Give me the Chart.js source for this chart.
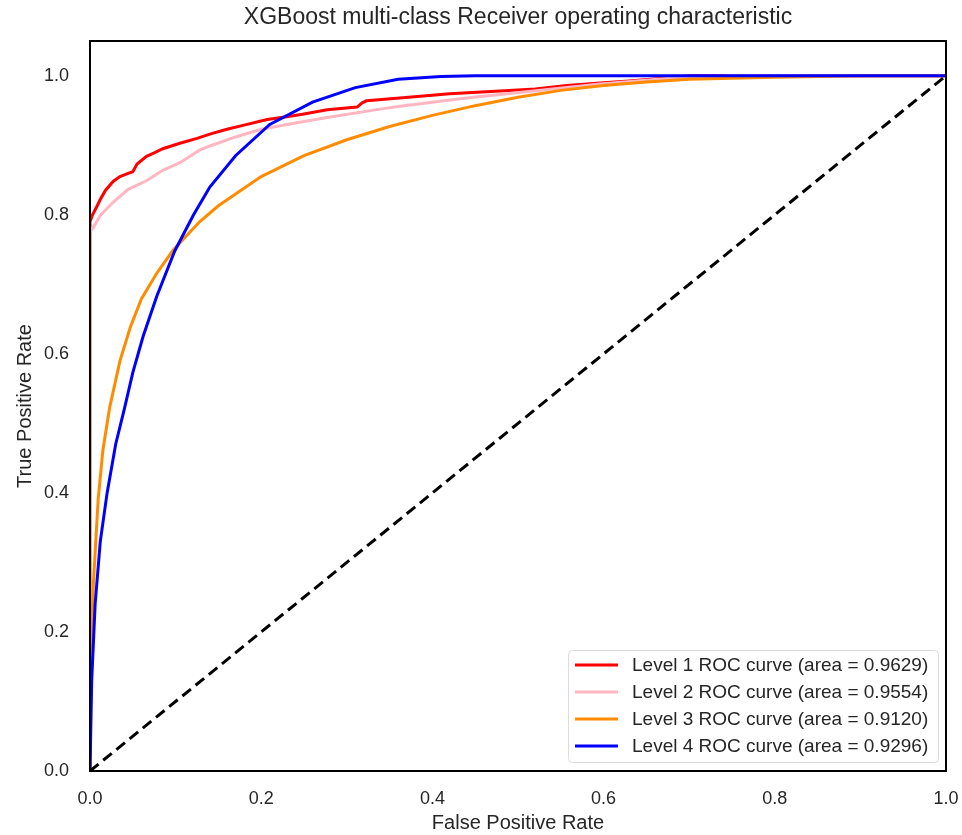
<!DOCTYPE html>
<html><head><meta charset="utf-8">
<script src="https://cdn.jsdelivr.net/npm/chart.js@4.4.1/dist/chart.umd.min.js"></script>
<style>html,body{margin:0;padding:0;background:#fff;overflow:hidden}#wrap{width:962px;height:835px}</style>
</head><body><div id="wrap"><canvas id="c" width="962" height="835"></canvas></div>
<script>
const chartTitle = "XGBoost multi-class Receiver operating characteristic";
const xTitle = "False Positive Rate";
const yTitle = "True Positive Rate";
const xTicks = [0, 0.2, 0.4, 0.6, 0.8, 1.0];
const yTicks = [0, 0.2, 0.4, 0.6, 0.8, 1.0];
const seriesLabels = [
  "Level 1 ROC curve (area = 0.9629)",
  "Level 2 ROC curve (area = 0.9554)",
  "Level 3 ROC curve (area = 0.9120)",
  "Level 4 ROC curve (area = 0.9296)"
];
const seriesColors = ["#ff0000", "#ffb6c1", "#ff8c00", "#0000ff"];

const fpr1 = [0, 0, 0.003, 0.008, 0.012, 0.018, 0.027, 0.035, 0.043, 0.05, 0.055, 0.066, 0.075, 0.085, 0.095, 0.105, 0.125, 0.14, 0.16, 0.18, 0.207, 0.23, 0.25, 0.277, 0.312, 0.318, 0.323, 0.362, 0.42, 0.479, 0.52, 0.557, 0.6, 0.634, 0.666, 0.7, 1.0];
const tpr1 = [0, 0.79, 0.80, 0.812, 0.822, 0.835, 0.848, 0.855, 0.859, 0.862, 0.873, 0.884, 0.889, 0.895, 0.899, 0.903, 0.91, 0.916, 0.923, 0.929, 0.937, 0.941, 0.945, 0.951, 0.955, 0.961, 0.964, 0.968, 0.974, 0.978, 0.981, 0.986, 0.99, 0.993, 0.996, 1.0, 1.0];

const fpr2 = [0, 0, 0.004, 0.012, 0.027, 0.045, 0.066, 0.085, 0.105, 0.128, 0.14, 0.17, 0.2, 0.24, 0.277, 0.339, 0.362, 0.44, 0.518, 0.596, 0.674, 0.75, 1.0];
const tpr2 = [0, 0.775, 0.782, 0.799, 0.818, 0.837, 0.849, 0.864, 0.875, 0.893, 0.899, 0.912, 0.923, 0.932, 0.940, 0.952, 0.956, 0.968, 0.978, 0.988, 0.996, 1.0, 1.0];

const fpr3 = [0, 0, 0.002, 0.004, 0.0095, 0.015, 0.023, 0.035, 0.047, 0.06, 0.078, 0.097, 0.128, 0.15, 0.2, 0.25, 0.3, 0.35, 0.4, 0.45, 0.5, 0.55, 0.6, 0.65, 0.7, 0.8, 0.9, 1.0];
const tpr3 = [0, 0.17, 0.2, 0.27, 0.39, 0.461, 0.523, 0.59, 0.638, 0.679, 0.716, 0.749, 0.790, 0.813, 0.855, 0.885, 0.908, 0.927, 0.943, 0.957, 0.969, 0.979, 0.986, 0.991, 0.995, 0.998, 1.0, 1.0];

const fpr4 = [0, 0.002, 0.006, 0.012, 0.02, 0.03, 0.04, 0.05, 0.062, 0.078, 0.099, 0.121, 0.14, 0.17, 0.21, 0.26, 0.31, 0.36, 0.41, 0.45, 1.0];
const tpr4 = [0, 0.13, 0.24, 0.33, 0.40, 0.47, 0.52, 0.573, 0.625, 0.683, 0.748, 0.80, 0.84, 0.885, 0.93, 0.962, 0.983, 0.995, 0.999, 1.0, 1.0];

const chanceX = [0, 1];
const chanceY = [0, 1];

const FONT = "'Liberation Sans', Arial, sans-serif";
const TEXT = "#262626";

function pts(xs, ys) { return xs.map((x, i) => ({ x: x, y: ys[i] })); }

const curves = [[fpr1, tpr1], [fpr2, tpr2], [fpr3, tpr3], [fpr4, tpr4]];
const datasets = curves.map((c, i) => ({
  label: seriesLabels[i],
  data: pts(c[0], c[1]),
  borderColor: seriesColors[i],
  backgroundColor: seriesColors[i],
  borderWidth: 3,
  showLine: true,
  pointRadius: 0,
  tension: 0,
  order: 5 - i
}));
datasets.push({
  label: "",
  data: pts(chanceX, chanceY),
  borderColor: "#000000",
  borderWidth: 3,
  borderDash: [11, 6],
  showLine: true,
  pointRadius: 0,
  order: 0
});

const framePlugin = {
  id: "frame",
  afterDatasetsDraw(chart) {
    const { ctx, chartArea: a } = chart;
    ctx.save();
    ctx.strokeStyle = "#000";
    ctx.lineWidth = 2;
    ctx.strokeRect(a.left, a.top, a.right - a.left, a.bottom - a.top);
    ctx.restore();
  }
};

const legendPlugin = {
  id: "innerLegend",
  afterDraw(chart) {
    const { ctx, chartArea: a } = chart;
    const items = chart.data.datasets.filter(d => d.label);
    const rowH = 27, w = 370, h = 112;
    const right = a.right - 8, bottom = a.bottom - 9;
    const left = right - w, top = bottom - h;
    ctx.save();
    ctx.fillStyle = "rgba(255,255,255,0.85)";
    ctx.strokeStyle = "#dcdcdc";
    ctx.lineWidth = 1;
    ctx.beginPath();
    if (ctx.roundRect) ctx.roundRect(left + 0.5, top + 0.5, w, h, 4); else ctx.rect(left + 0.5, top + 0.5, w, h);
    ctx.fill();
    ctx.stroke();
    ctx.font = "19px " + FONT;
    ctx.textBaseline = "middle";
    ctx.textAlign = "left";
    items.forEach((d, i) => {
      const y = top + 15 + i * rowH;
      ctx.strokeStyle = d.borderColor;
      ctx.lineWidth = 3;
      ctx.beginPath();
      ctx.moveTo(left + 7, y);
      ctx.lineTo(left + 50, y);
      ctx.stroke();
      ctx.fillStyle = TEXT;
      ctx.fillText(d.label, left + 64, y + 1);
    });
    ctx.restore();
  }
};

new Chart(document.getElementById("c"), {
  type: "scatter",
  data: { datasets: datasets },
  options: {
    responsive: false,
    animation: false,
    devicePixelRatio: 1,
    layout: { padding: { top: 0, right: 16, bottom: 0, left: 0 } },
    plugins: {
      legend: { display: false },
      tooltip: { enabled: false },
      title: {
        display: true,
        text: chartTitle,
        fullSize: false,
        color: TEXT,
        font: { family: FONT, size: 23, weight: "normal" },
        padding: { top: 4, bottom: 9.4 }
      }
    },
    scales: {
      x: {
        type: "linear",
        min: 0, max: 1,
        afterBuildTicks: s => { s.ticks = xTicks.map(v => ({ value: v })); },
        afterFit: s => { s.height = 64; s.paddingLeft = 0; s.paddingRight = 0; },
        grid: { display: false, drawTicks: false },
        border: { display: false },
        ticks: { callback: v => Number(v).toFixed(1), padding: 17, color: TEXT, font: { family: FONT, size: 18 }, maxRotation: 0, autoSkip: false },
        title: { display: true, text: xTitle, color: TEXT, font: { family: FONT, size: 20 }, padding: { top: 0, bottom: 0 } }
      },
      y: {
        type: "linear",
        min: 0, max: 1.05,
        afterBuildTicks: s => { s.ticks = yTicks.map(v => ({ value: v })); },
        afterFit: s => { s.width = 90; s.paddingTop = 0; s.paddingBottom = 0; },
        grid: { display: false, drawTicks: false },
        border: { display: false },
        ticks: { callback: v => Number(v).toFixed(1), padding: 21, color: TEXT, font: { family: FONT, size: 18 }, autoSkip: false },
        title: { display: true, text: yTitle, color: TEXT, font: { family: FONT, size: 20 }, padding: { top: 13, bottom: 0 } }
      }
    }
  },
  plugins: [framePlugin, legendPlugin]
});
</script>
</body></html>
